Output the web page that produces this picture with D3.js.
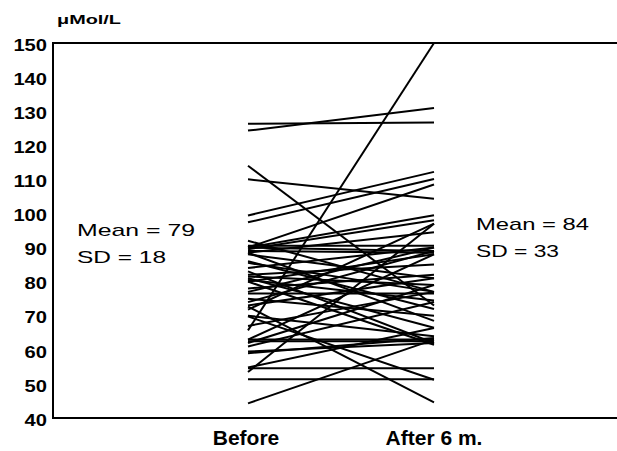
<!DOCTYPE html>
<html><head><meta charset="utf-8">
<script src="https://cdn.jsdelivr.net/npm/d3@7"></script>
<style>body{margin:0;background:#fff}svg{display:block}text{font-family:"Liberation Sans",Arial,sans-serif}</style>
</head><body>
<script>
const categories = ["Before", "After 6 m."];
const before = [65.7,126.3,124.3,114,110,99.4,97.4,90,90,89.5,88.5,90.5,90,89,88,85.5,84,81.5,80.5,80,81,76.5,74,72.7,71.8,69.8,70,63,62.5,59.5,59,54.8,54.6,51.4,44.3,63,62,53.5,83,78,75,86,80,67,88.5,82,77,73,61,92];
const after  = [150,126.7,130.9,73,104.3,112.2,110.1,108.5,99.5,98,94.5,90.5,89,88.5,81,77,90,79,74.5,88,66.5,76.5,89,44.6,97,51.2,64,63,62.5,62,63.5,66.4,54.6,51.4,63,88,79,97,62,82,70,72,61.5,77,68.5,85,90,81,74,77];
const yTicks = [40,50,60,70,80,90,100,110,120,130,140,150];
const statsLeft = ["Mean = 79", "SD = 18"];
const statsRight = ["Mean = 84", "SD = 33"];
const unitLabel = "\u03bcMol/L";

const W = 617, H = 451;
const svg = d3.select("body").append("svg").attr("width", W).attr("height", H);
const y = d3.scaleLinear().domain([40,150]).range([418,43]);
const x = d3.scalePoint().domain(categories).range([248,434]);

// frame
svg.append("line").attr("x1",53).attr("x2",53).attr("y1",y(150)-1).attr("y2",y(40)+1).attr("stroke","#000").attr("stroke-width",2);
svg.append("line").attr("x1",52).attr("x2",617).attr("y1",y(150)).attr("y2",y(150)).attr("stroke","#000").attr("stroke-width",2);
svg.append("line").attr("x1",52).attr("x2",617).attr("y1",y(40)).attr("y2",y(40)).attr("stroke","#000").attr("stroke-width",2);

// y axis labels
const ax = svg.append("g").attr("transform","translate(53,0)")
  .call(d3.axisLeft(y).tickValues(yTicks).tickSize(0).tickPadding(6));
ax.select(".domain").remove();
ax.selectAll("text").attr("font-size",16).attr("font-weight","bold").attr("fill","#000")
  .attr("font-family",'"Liberation Sans",Arial,sans-serif').attr("dy","0.45em")
  .attr("textLength", d => String(d).length * 11.2).attr("lengthAdjust","spacingAndGlyphs");

// paired lines
const pairs = before.map((b,i)=>[b, after[i]]);
svg.append("g").selectAll("line").data(pairs).join("line")
  .attr("x1", x(categories[0])).attr("x2", x(categories[1]))
  .attr("y1", d=>y(d[0])).attr("y2", d=>y(d[1]))
  .attr("stroke","#000").attr("stroke-width",2);

// unit label
svg.append("text").attr("x",57).attr("y",24).attr("font-size",12.5).attr("font-weight","bold")
  .attr("textLength",64).attr("lengthAdjust","spacingAndGlyphs").text(unitLabel);

// stats
const lensL = [118, 89], lensR = [113, 83];
svg.selectAll("text.sl").data(statsLeft).join("text").attr("class","sl")
  .attr("x",77).attr("y",(d,i)=>236+i*27).attr("font-size",17)
  .attr("textLength",(d,i)=>lensL[i]).attr("lengthAdjust","spacingAndGlyphs").text(d=>d);
svg.selectAll("text.sr").data(statsRight).join("text").attr("class","sr")
  .attr("x",476).attr("y",(d,i)=>230+i*27).attr("font-size",17)
  .attr("textLength",(d,i)=>lensR[i]).attr("lengthAdjust","spacingAndGlyphs").text(d=>d);

// category labels
svg.selectAll("text.cat").data(categories).join("text").attr("class","cat")
  .attr("x",(d,i)=>x(d) + (i ? 0 : -2)).attr("y",445).attr("text-anchor","middle")
  .attr("font-size",21).attr("font-weight","bold").text(d=>d);
</script>
</body></html>
